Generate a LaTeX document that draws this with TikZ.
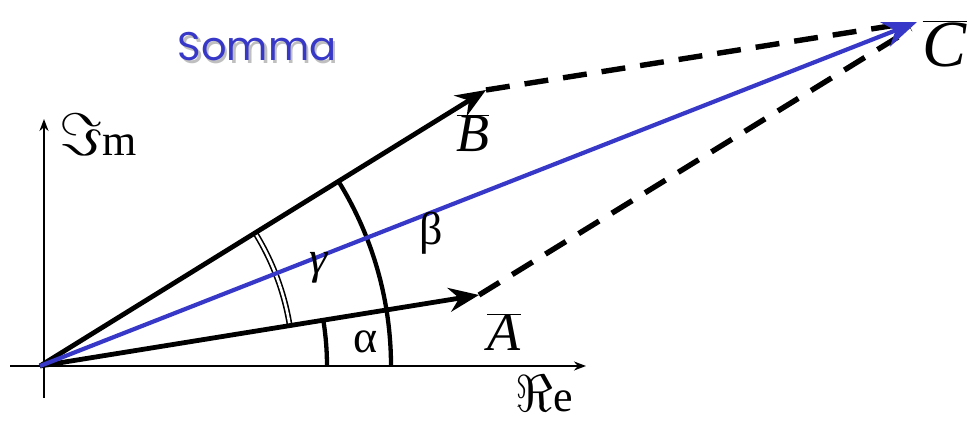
\documentclass[tikz,border=0pt]{standalone}
\usepackage{fix-cm}
\usepackage{fontspec}
\setmainfont{Liberation Serif}
\newfontfamily\sommafont{Poppins}
\usetikzlibrary{arrows.meta}
\definecolor{sblue}{RGB}{56,56,200}
\tikzset{
  vec/.style={line width=4.8pt,-{Stealth[length=30pt,width=24pt,inset=10pt]}},
  cvec/.style={line width=4.2pt,color=sblue,-{Stealth[length=34pt,width=26pt,inset=11pt]}},
  axis/.style={line width=2.2pt,-{Stealth[length=12pt,width=9pt]}},
  dsh/.style={line width=5.4pt,dash pattern=on 24pt off 15pt},
  ang/.style={line width=4.3pt},
  lab/.style={inner sep=0pt,font=\fontsize{54}{54}\selectfont},
  glab/.style={inner sep=0pt,font=\fontsize{46}{46}\selectfont},
  axlab/.style={inner sep=0pt,font=\fontsize{44}{44}\selectfont},
}
\begin{document}
\begin{tikzpicture}[x=1pt,y=1pt]
\useasboundingbox (0,0) rectangle (967,423);
\coordinate (O) at (40,57);
\coordinate (A) at (479,128);
\coordinate (B) at (486,333);
\coordinate (C) at (917,401);
\coordinate (C1) at (909,400);
\coordinate (C2) at (911,394);
\coordinate (xs) at (10,57);
\coordinate (xe) at (586,57);
\coordinate (ys) at (44,25);
\coordinate (ye) at (44,304);
% axes
\draw[axis] (xs) -- (xe);
\draw[axis] (ys) -- (ye);
% angle arcs
\draw[ang] (O) ++(0:287) arc[start angle=0,end angle=9.2,radius=287];
\draw[ang] (O) ++(0:351) arc[start angle=0,end angle=31.8,radius=351];
\draw[line width=1.6pt,double=white,double distance=2.6pt] (O) ++(9.2:253) arc[start angle=9.2,end angle=31.8,radius=253];
% dashed
\draw[dsh] (B) -- (C1);
\draw[dsh] (A) -- (C2);
% vectors
\draw[vec] (O) -- (A);
\draw[vec] (O) -- (B);
\draw[cvec] (O) -- (C);
% labels
\node[lab] (lA) at (504,91) {$\overline{\mbox{\textit{A}}}$};
\node[lab] (lB) at (473,290) {$\overline{\mbox{\textit{B}}}$};
\node[lab,font=\fontsize{66}{66}\selectfont] (lC) at (945,379) {$\overline{\mbox{\textit{C}}}$};
\node[glab] (la) at (366,81) {α};
\node[glab] (lb) at (431,190) {β};
\node[glab] (lg) at (319,155) {\textit{γ}};
\node[axlab] (lIm) at (98,288) {{\fontsize{60}{60}\selectfont$\Im$}m};
\node[axlab] (lRe) at (544,29) {{\fontsize{52}{52}\selectfont$\Re$}e};
\node[inner sep=0pt,font=\sommafont\fontsize{40}{40}\selectfont] (som) at (257,375)
  {\rlap{\hspace{2.5pt}\raisebox{-2.5pt}{\color{gray!50}Somma}}\textcolor{sblue}{Somma}};
\end{tikzpicture}
\end{document}
